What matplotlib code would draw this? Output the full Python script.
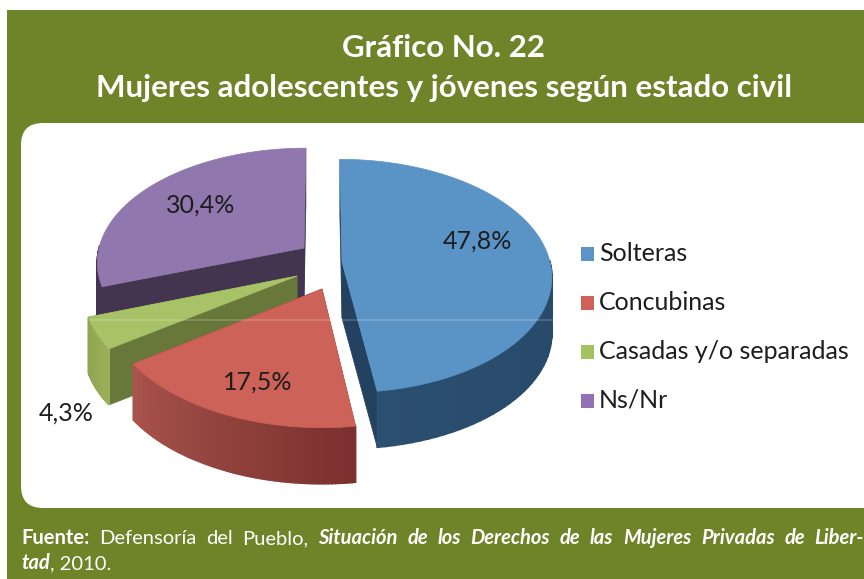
# -*- coding: utf-8 -*-
import numpy as np
import matplotlib.pyplot as plt
from matplotlib.colors import to_rgb
from matplotlib.patches import FancyBboxPatch, Polygon, Rectangle

categories = ['Solteras', 'Concubinas', 'Casadas y/o separadas', 'Ns/Nr']
values = [47.8, 17.5, 4.3, 30.4]
value_labels = ['47,8%', '17,5%', '4,3%', '30,4%']

W, H = 864, 579
GREEN_BG = '#6f8428'
TOP_COLORS = ['#5a94c7', '#cc6258', '#a8c268', '#9077ad']
CUT_COLORS = ['#24425f', '#7a302e', '#68783a', '#43344f']
SIDE_FROM = ['#24425f', '#7a302e', '#9ab059', '#43344f']  # side colour at small angle
SIDE_TO = ['#2b4f70', '#a9544c', '#8fa552', '#43344f']
LEGEND_COLORS = ['#5b94c8', '#cf6157', '#a3c25f', '#9272b5']

# pie projection, in pixels
CX, CY = 322, 262
RX, RY = 208, 115
PERSP = 0.12
DEPTH = 56
APEX = [(342, 262), (322, 289), (297, 276), (304, 248)]
LABEL_POS = [(477, 241), (258, 382), (66, 413), (201, 205)]
DRAW_ORDER = [3, 2, 1, 0]

FOOT_BOLD = {'fontweight': 'bold'}
FOOT_PLAIN = {'fontweight': 'normal'}
FOOT_EM = {'fontweight': 'bold', 'style': 'italic'}
FOOT_LINE1 = [('Fuente:', FOOT_BOLD), ('Defensoría', FOOT_PLAIN), ('del', FOOT_PLAIN), ('Pueblo,', FOOT_PLAIN)] + \
    [(w, FOOT_EM) for w in 'Situación de los Derechos de las Mujeres Privadas de Liber-'.split()]


def to_screen(x, y):
    s = 1 / (1 - PERSP * y)
    return CX + RX * x * s, CY + RY * y * s


def to_plane(px, py):
    dy = py - CY
    y = dy / (RY + PERSP * dy)
    x = (px - CX) * (1 - PERSP * y) / RX
    return x, y


def arc_points(apex, a, b, n=80):
    ax0, ay0 = to_plane(*apex)
    theta = np.radians(np.linspace(a, b, n))
    xs, ys = to_screen(ax0 + np.sin(theta), ay0 - np.cos(theta))
    return theta, np.column_stack([xs, ys])


def mix(c1, c2, t):
    return tuple((1 - t) * p + t * q for p, q in zip(to_rgb(c1), to_rgb(c2)))


def draw_slice(ax, i, a, b):
    apex = np.array(APEX[i], dtype=float)
    theta, arc = arc_points(APEX[i], a, b)
    down = np.array([0, DEPTH])

    # cut faces, far one first
    ends = sorted([arc[0], arc[-1]], key=lambda p: p[1])
    for end in ends:
        face = [apex, end, end + down, apex + down]
        ax.add_patch(Polygon(face, closed=True, fc=CUT_COLORS[i], ec=CUT_COLORS[i], lw=0.5))

    # outer side, only the part that faces us
    for k in range(len(theta) - 1):
        if np.cos(theta[k]) > 0.02:
            continue
        t = (np.degrees(theta[k]) - a) / max(b - a, 1)
        col = mix(SIDE_FROM[i], SIDE_TO[i], t)
        quad = [arc[k], arc[k + 1], arc[k + 1] + down, arc[k] + down]
        ax.add_patch(Polygon(quad, closed=True, fc=col, ec=col, lw=1.2))

    top = np.vstack([apex, arc])
    ax.add_patch(Polygon(top, closed=True, fc=TOP_COLORS[i], ec=TOP_COLORS[i], lw=0.5))


def draw_footer(fig, ax):
    foot = dict(color='white', fontsize=14.5, family='Lato', va='baseline', ha='left')
    renderer = fig.canvas.get_renderer()

    # first line is justified between the two margins
    items = [ax.text(21, 544, word, **style, **foot) for word, style in FOOT_LINE1]
    widths = [t.get_window_extent(renderer).width for t in items]
    gap = (W - 21 - sum(widths)) / (len(items) - 1)
    x = 21
    for t, width in zip(items, widths):
        t.set_x(x)
        x += width + gap

    t = ax.text(21, 569, 'tad', **FOOT_EM, **foot)
    x = 21 + t.get_window_extent(renderer).width
    ax.text(x, 569, ', 2010.', **FOOT_PLAIN, **foot)


def main():
    fig = plt.figure(figsize=(W / 100, H / 100), dpi=100, facecolor='white')
    ax = fig.add_axes([0, 0, 1, 1])
    ax.set_xlim(0, W)
    ax.set_ylim(H, 0)
    ax.axis('off')

    ax.add_patch(Rectangle((7, 10), W - 7, H - 10, fc=GREEN_BG, ec='none'))
    ax.add_patch(FancyBboxPatch((21 + 22, 123 + 22), W + 40 - 22, 385 - 44,
                                boxstyle='round,pad=22,rounding_size=22',
                                fc='white', ec='none'))

    ax.text(444, 48, 'Gráfico No. 22', color='white', fontsize=22.5, fontweight='bold',
            family='Lato', ha='center', va='center')
    ax.text(444, 88, 'Mujeres adolescentes y jóvenes según estado civil', color='white',
            fontsize=22.5, fontweight='bold', family='Lato', ha='center', va='center')

    # slices start at 12 o'clock and run clockwise
    edges = np.concatenate([[0], np.cumsum(values)]) / np.sum(values) * 360
    for i in DRAW_ORDER:
        draw_slice(ax, i, edges[i], edges[i + 1])

    ax.plot([90, 553], [319.5, 319.5], color='white', alpha=0.2, lw=1.2)

    for i, lab in enumerate(value_labels):
        ax.text(LABEL_POS[i][0], LABEL_POS[i][1], lab, color='#1d1d1d', fontsize=18,
                family='Lato', ha='center', va='center')

    for i, cat in enumerate(categories):
        y = 253.5 + i * 49
        ax.add_patch(Rectangle((581, y - 7), 13, 14, fc=LEGEND_COLORS[i], ec='none'))
        ax.text(599, y, cat, color='#1d1d1d', fontsize=18, family='Lato', ha='left', va='center')

    draw_footer(fig, ax)

    fig.savefig('out.png', dpi=100, facecolor='white')


main()
